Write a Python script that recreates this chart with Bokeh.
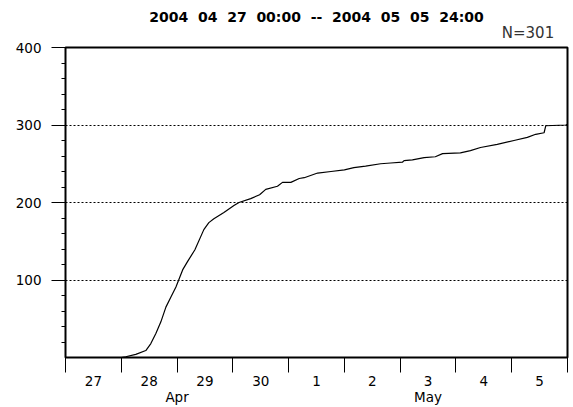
from bokeh.plotting import figure
from bokeh.models import FixedTicker, LinearAxis, Range1d
from bokeh.embed import file_html
from bokeh.resources import INLINE

# Cumulative event count, time in days since 2004-04-27 00:00
event_day = [0.00, 1.00, 1.08, 1.26, 1.44, 1.53, 1.62, 1.71, 1.80, 1.89, 1.98,
             2.04, 2.10, 2.19, 2.32, 2.48, 2.57, 2.66, 2.84, 3.02, 3.11, 3.32,
             3.48, 3.59, 3.80, 3.89, 4.04, 4.19, 4.28, 4.52, 4.76, 5.00, 5.17,
             5.38, 5.65, 5.83, 6.04, 6.07, 6.22, 6.43, 6.63, 6.76, 7.08, 7.26,
             7.44, 7.74, 8.04, 8.28, 8.43, 8.58, 8.61, 8.97, 9.00]
cumulative_count = [0, 0, 1, 4, 9, 18, 31, 46, 65, 78, 91,
                    102, 113, 124, 139, 165, 174, 179, 187, 196, 200, 205,
                    210, 217, 221, 226, 226, 231, 232, 238, 240, 242, 245,
                    247, 250, 251, 252, 254, 255, 258, 259, 263, 264, 267,
                    271, 275, 280, 284, 288, 290, 299, 300, 301]

day_labels = ["27", "28", "29", "30", "1", "2", "3", "4", "5"]
month_labels = ["Apr", "May"]
month_day_counts = [4, 5]
y_major_ticks = [100, 200, 300, 400]
y_minor_ticks = [20, 40, 60, 80, 120, 140, 160, 180, 220, 240, 260, 280,
                 320, 340, 360, 380]
grid_levels = [100, 200, 300]
title_parts = ["2004", "04", "27", "00:00", "--", "2004", "05", "05", "24:00"]
count_text = "N=301"

n_days = len(day_labels)
FONT = "DejaVu Sans"
WIDE_GAP = "\u00a0 "
FRAME_PX = 502

p = figure(width=573, height=407, x_range=Range1d(0, n_days), y_range=Range1d(0, 400),
           output_backend="svg", toolbar_location=None,
           min_border_left=65, min_border_right=6, min_border_top=47, min_border_bottom=50)
p.background_fill_color = "white"
p.border_fill_color = "white"
p.outline_line_color = "black"
p.outline_line_width = 2
p.title.visible = False

# grid
p.xgrid.visible = False
p.ygrid.ticker = FixedTicker(ticks=grid_levels)
p.ygrid.grid_line_color = "black"
p.ygrid.grid_line_dash = "2 2"
p.ygrid.grid_line_width = 1

# y axis
yax = p.left[0]
yax.ticker = FixedTicker(ticks=y_major_ticks, minor_ticks=y_minor_ticks)
yax.axis_line_color = "black"
yax.major_tick_in = 0
yax.major_tick_out = 14
yax.minor_tick_in = 0
yax.minor_tick_out = 4
yax.major_tick_line_color = "black"
yax.minor_tick_line_color = "black"
yax.major_label_standoff = 10
yax.major_label_text_font = FONT
yax.major_label_text_font_size = "13.5px"
yax.major_label_text_color = "black"

# x axis: day boundaries as ticks, day numbers centered
xax = p.below[0]
xax.ticker = FixedTicker(ticks=[i + 0.5 for i in range(n_days)],
                         minor_ticks=list(range(n_days + 1)))
xax.major_label_overrides = {i + 0.5: lab for i, lab in enumerate(day_labels)}
xax.axis_line_color = "black"
xax.major_tick_line_color = None
xax.major_tick_in = 0
xax.major_tick_out = 0
xax.minor_tick_in = 0
xax.minor_tick_out = 15
xax.minor_tick_line_color = "black"
xax.major_label_standoff = 3
xax.major_label_text_font = FONT
xax.major_label_text_font_size = "13.5px"
xax.major_label_text_color = "black"


def text_axis(positions, labels, size, style, color, standoff):
    ax = LinearAxis(ticker=FixedTicker(ticks=positions),
                    major_label_overrides={c: m for c, m in zip(positions, labels)})
    ax.axis_line_color = None
    ax.major_tick_line_color = None
    ax.minor_tick_line_color = None
    ax.major_tick_out = 0
    ax.major_tick_in = 0
    ax.major_label_standoff = standoff
    ax.major_label_text_font = FONT
    ax.major_label_text_font_size = size
    ax.major_label_text_font_style = style
    ax.major_label_text_color = color
    ax.major_label_text_align = "center"
    return ax


# month axis
centers = []
start = 0
for cnt in month_day_counts:
    centers.append(start + cnt / 2)
    start += cnt
p.add_layout(text_axis(centers, month_labels, "13.5px", "normal", "black", 0), "below")

# "N=301" just above the frame at the right, title above it
p.add_layout(text_axis([n_days - 39.5 * n_days / FRAME_PX], [count_text], "15px", "normal",
                       "#333333", 6), "above")
p.add_layout(text_axis([n_days / 2], [WIDE_GAP.join(title_parts)], "14px", "bold",
                       "black", -4), "above")

p.line(event_day, cumulative_count, line_color="black", line_width=1.2)

open("out.html", "w").write(file_html(p, INLINE))
